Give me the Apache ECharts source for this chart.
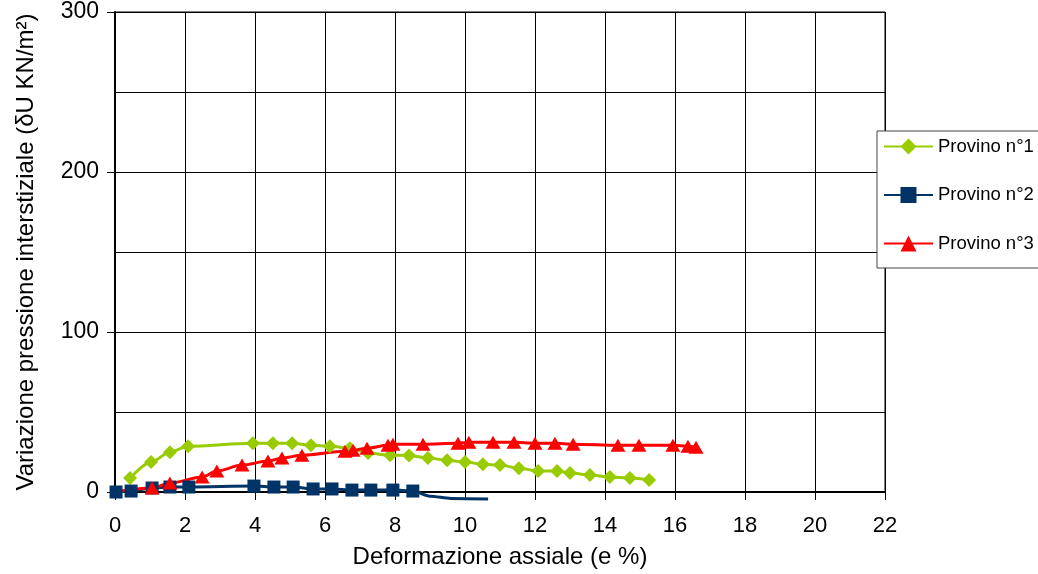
<!DOCTYPE html>
<html>
<head>
<meta charset="utf-8">
<script src="https://cdn.jsdelivr.net/npm/echarts@6/dist/echarts.min.js"></script>
<style>
  html, body { margin: 0; padding: 0; background: #fff; }
  #chart { width: 1038px; height: 574px; }
</style>
</head>
<body>
<div id="chart"></div>
<script>
// Provino n°1 — green diamonds
const p1X = [0.43, 1.03, 1.57, 2.09, 3.94, 4.51, 5.06, 5.6, 6.14, 6.71, 7.23, 7.86, 8.4, 8.94, 9.49, 10.0, 10.51, 11.0, 11.54, 12.09, 12.63, 13.0, 13.57, 14.14, 14.71, 15.26]
const p1Y = [8.7, 18.7, 24.9, 28.6, 30.5, 30.5, 30.5, 29.2, 28.6, 27.4, 24.3, 23.0, 22.8, 21.2, 19.9, 18.7, 17.4, 16.8, 14.9, 13.1, 13.1, 11.8, 10.6, 9.3, 8.7, 7.5]

// Provino n°2 — blue squares (last points: tail of the curve, no marker)
const p2X = [0.03, 0.46, 1.06, 1.57, 2.11, 3.97, 4.54, 5.09, 5.66, 6.2, 6.77, 7.31, 7.94, 8.51, 9.0, 9.6, 10.66]
const p2Y = [0, 0.6, 2.5, 3.1, 3.1, 3.7, 3.1, 3.1, 1.9, 1.9, 1.2, 1.2, 1.2, 0.6, -2.6, -4.0, -4.4]
const p2Tail = 3

// Provino n°3 — red triangles (first point: start of the curve, no marker)
const p3X = [0, 1.06, 1.57, 2.49, 2.91, 3.63, 4.37, 4.77, 5.34, 6.57, 6.8, 7.2, 7.8, 7.94, 8.8, 9.8, 10.11, 10.8, 11.4, 12.0, 12.57, 13.09, 14.37, 14.97, 15.94, 16.37, 16.6]
const p3Y = [0, 2.5, 5.6, 9.3, 13.1, 16.8, 19.3, 21.2, 23.0, 25.5, 26.1, 27.4, 29.2, 29.9, 29.9, 30.5, 31.1, 31.1, 31.1, 30.5, 30.5, 29.9, 29.2, 29.2, 29.2, 28.6, 28.0]

const xTicks = { min: 0, max: 22, step: 2 }
const yTicks = { min: 0, max: 300, step: 100 }

const GREEN = '#99CC00'
const BLUE  = '#003366'
const RED   = '#FF0000'
const FONT  = "'Liberation Sans', Arial, sans-serif"

const pairs = (xs, ys) => xs.map((x, i) => [x, ys[i]])

const p2Data = pairs(p2X, p2Y).map((v, i) =>
  i >= p2X.length - p2Tail ? { value: v, symbol: 'none' } : v)
const p3Data = pairs(p3X, p3Y).map((v, i) =>
  i === 0 ? { value: v, symbol: 'none' } : v)

function lineSeries(name, data, color, symbol, size) {
  return {
    name,
    type: 'line',
    data,
    smooth: 0.3,
    smoothMonotone: 'x',
    symbol,
    symbolSize: size,
    clip: false,
    lineStyle: { color, width: 3 },
    itemStyle: { color },
  }
}

const chart = echarts.init(document.getElementById('chart'))
chart.setOption({
  animation: false,
  textStyle: { fontFamily: FONT },
  grid: {
    left: 115, right: 153, top: 12, bottom: 80,
    show: true, borderColor: '#000', borderWidth: 1,
  },
  legend: {
    orient: 'vertical',
    left: 877, top: 131,
    padding: [6, 6, 15, 6],
    itemWidth: 49, itemHeight: 20, itemGap: 29.5,
    backgroundColor: '#fff',
    borderColor: '#444', borderWidth: 1,
    textStyle: { fontSize: 18.5, color: '#000', fontFamily: FONT },
  },
  xAxis: {
    type: 'value',
    min: xTicks.min, max: xTicks.max, interval: xTicks.step,
    name: 'Deformazione assiale (e %)',
    nameLocation: 'middle', nameGap: 53,
    nameTextStyle: { fontSize: 24, color: '#000' },
    axisLine: { lineStyle: { color: '#000', width: 2 } },
    axisTick: { show: true, length: 8, lineStyle: { color: '#000' } },
    axisLabel: { fontSize: 22, color: '#000', margin: 23 },
    splitLine: { show: true, lineStyle: { color: '#000', width: 1 } },
  },
  yAxis: {
    type: 'value',
    min: yTicks.min, max: yTicks.max, interval: yTicks.step,
    name: 'Variazione pressione interstiziale (δU KN/m²)',
    nameLocation: 'middle', nameGap: 77,
    nameTextStyle: { fontSize: 24, color: '#000' },
    axisLine: { show: true, lineStyle: { color: '#000', width: 2 } },
    axisTick: { show: true, length: 8, lineStyle: { color: '#000' } },
    axisLabel: { fontSize: 23, color: '#000', margin: 16 },
    splitLine: { show: true, lineStyle: { color: '#000', width: 1 } },
    minorTick: { show: false, splitNumber: 2 },
    minorSplitLine: { show: true, lineStyle: { color: '#000', width: 1 } },
  },
  series: [
    lineSeries('Provino n°1', pairs(p1X, p1Y), GREEN, 'diamond', [14, 14]),
    lineSeries('Provino n°2', p2Data, BLUE, 'rect', 13),
    lineSeries('Provino n°3', p3Data, RED, 'triangle', [15, 13]),
  ],
})
</script>
</body>
</html>
